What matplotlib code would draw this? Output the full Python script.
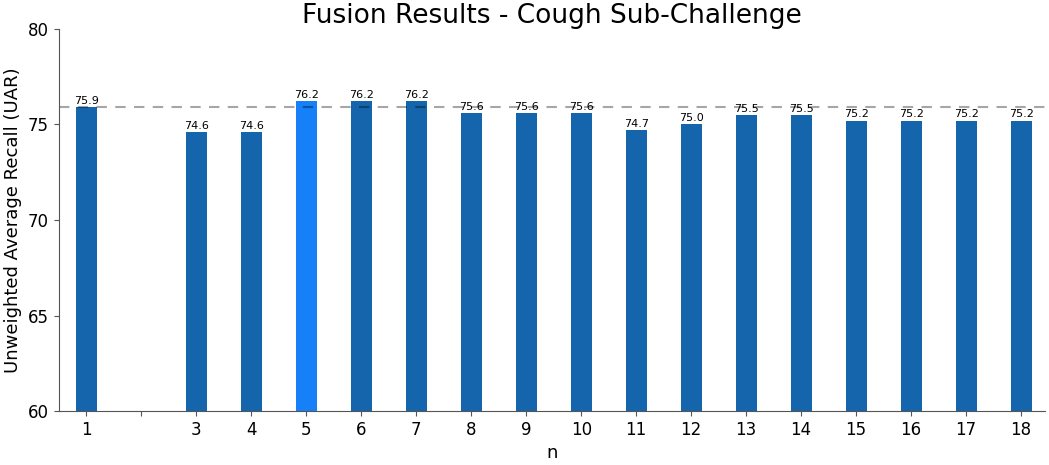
import numpy as np
import matplotlib.pyplot as plt

n_vals = [1, 3, 4, 5, 6, 7, 8, 9, 10, 11, 12, 13, 14, 15, 16, 17, 18]
uar = [75.9, 74.6, 74.6, 76.2, 76.2, 76.2, 75.6, 75.6, 75.6, 74.7, 75.0, 75.5, 75.5, 75.2, 75.2, 75.2, 75.2]
best_n = 5
baseline = 75.9
tick_pos = list(range(1, 19))
tick_labels = [str(t) if t != 2 else '' for t in tick_pos]

fig = plt.figure(figsize=(10.49, 4.65), dpi=100)
ax = fig.add_axes([0.056, 0.116, 0.94, 0.822])

colors = ['#1580f8' if n == best_n else '#1565ad' for n in n_vals]
bars = ax.bar(n_vals, uar, width=0.38, color=colors)
for b, v in zip(bars, uar):
    ax.text(b.get_x() + b.get_width() / 2, v + 0.06, f'{v:.1f}', ha='center', va='bottom', fontsize=8)

# semi-transparent so it darkens over the bars
ax.axhline(baseline, color='black', alpha=0.35, linestyle='--', linewidth=1.5, dashes=(5, 4))

ax.set_ylim(60, 80)
ax.set_xlim(0.5, 18.43)
ax.set_yticks([60, 65, 70, 75, 80])
ax.set_xticks(tick_pos)
ax.set_xticklabels(tick_labels)
ax.tick_params(labelsize=12, colors='#555555', labelcolor='black')
ax.spines['top'].set_visible(False)
ax.spines['right'].set_visible(False)
ax.spines['left'].set_color('#555555')
ax.spines['bottom'].set_color('#555555')

ax.set_xlabel('n', fontsize=13)
ax.set_ylabel('Unweighted Average Recall (UAR)', fontsize=13)
ax.set_title('Fusion Results - Cough Sub-Challenge', fontsize=19, pad=3)

fig.savefig('out.png', dpi=100)
